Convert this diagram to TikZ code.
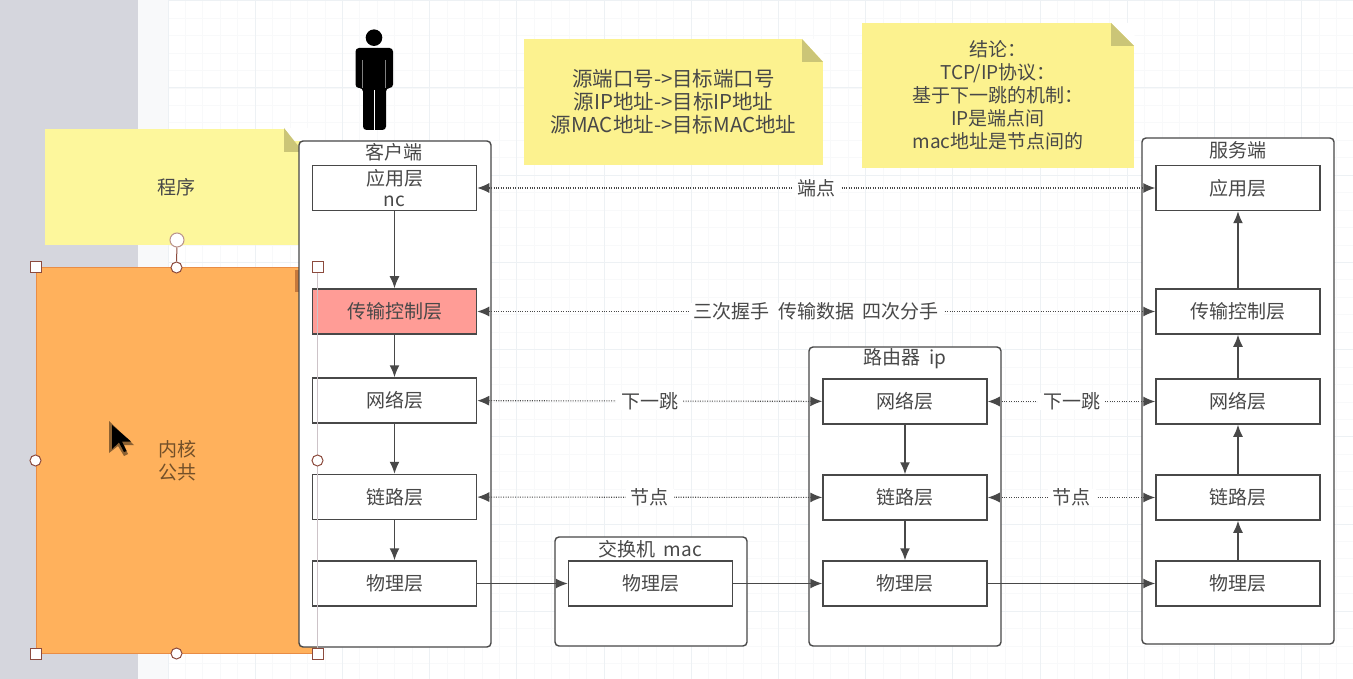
\documentclass[tikz,border=0pt]{standalone}
\usepackage{fontspec}
\setmainfont{Noto Sans CJK SC}
\usetikzlibrary{arrows.meta}
\definecolor{sidegray}{HTML}{D5D6DD}
\definecolor{gridline}{HTML}{EDF1F4}
\definecolor{gridfaint}{HTML}{F8F9FA}
\definecolor{notelight}{HTML}{FDF79C}
\definecolor{notedark}{HTML}{FCF28F}
\definecolor{foldcolor}{HTML}{CBC577}
\definecolor{kernel}{HTML}{FFB15C}
\definecolor{kernelline}{HTML}{E98D45}
\definecolor{handleline}{HTML}{8C4B3E}
\definecolor{inkgray}{HTML}{484848}
\definecolor{redbox}{HTML}{FF9C96}
\definecolor{selectline}{HTML}{CDC3C8}
\begin{document}
\begin{tikzpicture}[
        x=1pt, y=-1pt,
        every node/.style={align=center, text=inkgray, inner sep=0pt,
        font=\fontsize{19}{23}\selectfont},
        >={Latex[length=12pt,width=10pt]},
        device/.style={draw=inkgray, fill=white, line width=1.4pt, rounded corners=4pt,
        minimum width=192pt},
        layer/.style={draw=inkgray, fill=white, line width=1.5pt,
        minimum width=164pt, minimum height=45pt},
        solid link/.style={->, draw=inkgray, line width=1.5pt},
        dot link/.style={<->, draw=inkgray, line width=1.1pt, dash pattern=on 1pt off 1.4pt},
        flat link/.style={->, draw=inkgray, line width=1.2pt},
        hop/.style={midway, fill=white, inner xsep=5pt},
        square handle/.style={draw=handleline, fill=white, line width=1pt,
        minimum size=11pt},
        round handle/.style={circle, draw=handleline, fill=white, line width=1pt,
        minimum size=11pt}
      ]
    \useasboundingbox (0,0) rectangle (1353,679);
    % page and grid
    \fill[white] (0,0) rectangle (1353,679);
    \fill[gridfaint] (138,0) rectangle (168,679);
    \fill[sidegray] (0,0) rectangle (138,679);
    \foreach \i in {0,...,67} {
      \draw[gridfaint, line width=0.8pt] (168+17.44*\i,0) -- (168+17.44*\i,679);
    }
    \foreach \i in {-5,...,38} {
      \draw[gridfaint, line width=0.8pt] (168,88+17.44*\i) -- (1353,88+17.44*\i);
    }
    \foreach \i in {0,...,13} {
      \draw[gridline, line width=1pt] (168+87.2*\i,0) -- (168+87.2*\i,679);
    }
    \foreach \i in {-1,...,6} {
      \draw[gridline, line width=1pt] (168,88+87.2*\i) -- (1353,88+87.2*\i);
    }
    % kernel block, under the client box
    \node[fill=kernel, draw=kernelline, line width=1pt, minimum width=281pt,
      minimum height=385pt] (kernelbox) at (176.5,460.5) {};
    \fill[kernelline!85!black] (295,270) rectangle (299,292);
    % notes
    \node[fill=notelight, minimum width=263pt, minimum height=116pt] (prog) at (176.5,187) {程序};
    \fill[white] (284,128) -- (308,128) -- (308,141) -- (293.5,141) -- cycle;
    \fill[foldcolor] (284,128) -- (303,152) -- (284,152) -- cycle;
    \node[fill=notedark, minimum width=299pt, minimum height=126pt,
      font=\fontsize{20.5}{23}\selectfont] (addr) at (673.5,102)
    {源端口号->目标端口号\\源IP地址->目标IP地址\\源MAC地址->目标MAC地址};
    \fill[white] (802,39) -- (823.5,39) -- (823.5,62) -- cycle;
    \fill[foldcolor] (802,39) -- (823,62) -- (802,62) -- cycle;
    \node[fill=notedark, minimum width=272pt, minimum height=145pt] (concl) at (998,95.5)
    {结论：\\TCP/IP协议：\\基于下一跳的机制：\\IP是端点间\\mac地址是节点间的};
    \fill[white] (1111,23) -- (1134.5,23) -- (1134.5,46) -- cycle;
    \fill[foldcolor] (1111,23) -- (1134,46) -- (1111,46) -- cycle;
    % person
    \fill[black] (374,37.7) circle (8.3);
    \fill[black, rounded corners=3.5pt] (355.5,88) -- (355.5,48) -- (393,48) -- (393,88) -- (386,88)
      -- (386,130) -- (363,130) -- (363,88) -- cycle;
    \draw[white, line width=1.3pt] (374.5,90) -- (374.5,130);
    \draw[gray, line width=0.8pt] (385.8,60) -- (385.8,88);
    \draw[gray, line width=0.8pt] (362.8,60) -- (362.8,88);
    % devices
    \node[device, minimum height=506pt] (client) at (395,394) {};
    \node[device, minimum height=506pt] (server) at (1238,391) {};
    \node[device, minimum height=299pt] (router) at (905,496.5) {};
    \node[device, minimum height=109pt] (switch) at (651,591.5) {};
    \node (clienttitle) at (394,152) {客户端};
    \node (servertitle) at (1238,150) {服务端};
    \node (routertitle) at (905,359) {路由器 \ ip};
    \node (switchtitle) at (650,549) {交换机 \ mac};
    % client stack
    \node[layer] (capp) at (394.5,188) {应用层\\[-2pt]nc};
    \node[layer, fill=redbox, below of=capp, node distance=123.5pt] (ctrans) {传输控制层};
    \node[layer, below of=ctrans, node distance=89pt] (cnet) {网络层};
    \node[layer, below of=cnet, node distance=96.5pt] (clink) {链路层};
    \node[layer, below of=clink, node distance=86.5pt] (cphy) {物理层};
    % server stack
    \node[layer] (sapp) at (1238,188) {应用层};
    \node[layer, below of=sapp, node distance=123.5pt] (strans) {传输控制层};
    \node[layer, below of=strans, node distance=90pt] (snet) {网络层};
    \node[layer, below of=snet, node distance=96pt] (slink) {链路层};
    \node[layer, below of=slink, node distance=86pt] (sphy) {物理层};
    % router and switch
    \node[layer] (rnet) at (905,401.5) {网络层};
    \node[layer, below of=rnet, node distance=96pt] (rlink) {链路层};
    \node[layer, below of=rlink, node distance=86pt] (rphy) {物理层};
    \node[layer] (swphy) at (650.5,583.5) {物理层};
    % links
    \draw[solid link] (capp) -- (ctrans);
    \draw[solid link] (ctrans) -- (cnet);
    \draw[solid link] (cnet) -- (clink);
    \draw[solid link] (clink) -- (cphy);
    \draw[solid link] (sphy) -- (slink);
    \draw[solid link] (slink) -- (snet);
    \draw[solid link] (snet) -- (strans);
    \draw[solid link] (strans) -- (sapp);
    \draw[solid link] (rnet) -- (rlink);
    \draw[solid link] (rlink) -- (rphy);
    \draw[flat link] (cphy) -- (swphy);
    \draw[flat link] (swphy) -- (rphy);
    \draw[flat link] (rphy) -- (sphy);
    \draw[dot link] (capp) -- node[hop] (endlabel) {端点} (sapp);
    \draw[dot link] (ctrans) -- node[hop] (tcplabel) {三次握手 \ 传输数据 \ 四次分手} (strans);
    \draw[dot link] (cnet) -- node[hop] (hopleft) {下一跳} (rnet);
    \draw[dot link] (rnet) -- node[hop] (hopright) {下一跳} (snet);
    \draw[dot link] (clink) -- node[hop] (nodeleft) {节点} (rlink);
    \draw[dot link] (rlink) -- node[hop] (noderight) {节点} (slink);
    % selection frame on the kernel block
    \node[text=black!55!kernel] (kerneltext) at (177,461) {内核\\公共};
    \draw[selectline, line width=1pt] (kernelbox.north east) -- (kernelbox.south east);
    \node[square handle] (hnw) at (kernelbox.north west) {};
    \node[square handle] (hne) at (kernelbox.north east) {};
    \node[square handle] (hsw) at (kernelbox.south west) {};
    \node[square handle] (hse) at (kernelbox.south east) {};
    \node[round handle] (hn) at (kernelbox.north) {};
    \node[round handle] (hs) at (kernelbox.south) {};
    \node[round handle] (hw) at (kernelbox.west) {};
    \node[round handle] (he) at (kernelbox.east) {};
    \node[round handle, minimum size=14pt, draw=handleline!60!white] (hrot) at (177,240) {};
    \draw[handleline, line width=1pt] (hrot) -- (hn);
    % mouse pointer
    \fill[black!45!kernel] (109,421) -- (109,453) -- (118,446) -- (124,456) -- (128,454) -- (124,445) -- (134,445) -- cycle;
    \fill[black] (112,425) -- (112,449) -- (119,442.5) -- (124,452) -- (126.5,451) -- (122,441.5) -- (131,441.5) -- cycle;
      \end{tikzpicture}
\end{document}
